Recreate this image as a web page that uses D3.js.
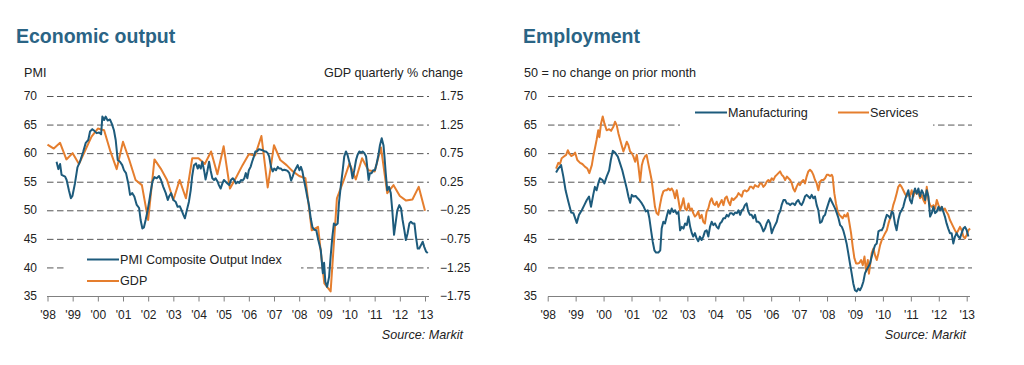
<!DOCTYPE html>
<html><head><meta charset="utf-8">
<script src="https://cdn.jsdelivr.net/npm/d3@7"></script>
<style>
html,body{margin:0;padding:0;background:#fff;}
svg{display:block;font-family:"Liberation Sans",Arial,sans-serif;}
</style></head>
<body><svg id="c" width="1024" height="365"></svg>
<script>
// ---------- DATA ----------
const yearTicks = [1998,1999,2000,2001,2002,2003,2004,2005,2006,2007,2008,2009,2010,2011,2012,2013];
const yearLabels = ["'98","'99","'00","'01","'02","'03","'04","'05","'06","'07","'08","'09","'10","'11","'12","'13"];
const pmiTicks = [35,40,45,50,55,60,65,70];
const gdpTicks = [-1.75,-1.25,-0.75,-0.25,0.25,0.75,1.25,1.75];

// PMI Composite Output Index [decimal year, value]
const pmiComposite = [
[1998.36,58.5],[1998.43,57.2],[1998.50,58.1],[1998.56,56.2],[1998.70,55.9],[1998.76,55.3],[1998.85,53.5],[1998.93,52.1],[1998.99,52.5],
[1999.09,54.7],[1999.19,57.5],[1999.29,58.5],[1999.42,60.3],[1999.52,61.8],[1999.62,62.3],[1999.69,63.8],[1999.78,64.2],[1999.86,63.9],[1999.95,63.5],
[2000.05,63.6],[2000.13,63.3],[2000.18,66.4],[2000.25,65.8],[2000.31,66.4],[2000.39,65.7],[2000.48,65.9],[2000.55,65.2],[2000.64,64.0],[2000.71,62.3],[2000.79,58.8],[2000.88,58.5],[2000.97,57.9],
[2001.04,57.0],[2001.12,56.5],[2001.21,54.7],[2001.28,52.7],[2001.37,53.0],[2001.45,52.4],[2001.54,51.0],[2001.64,50.4],[2001.70,48.3],[2001.77,46.8],[2001.83,47.0],[2001.90,48.3],[2001.98,50.0],
[2002.05,51.8],[2002.11,53.5],[2002.17,55.0],[2002.25,55.8],[2002.34,55.6],[2002.43,56.0],[2002.51,55.3],[2002.60,54.1],[2002.70,53.0],[2002.78,51.8],[2002.83,52.4],[2002.91,53.0],
[2003.00,51.8],[2003.09,51.5],[2003.17,50.6],[2003.26,50.7],[2003.33,50.0],[2003.40,49.2],[2003.46,48.6],[2003.53,49.9],[2003.62,51.5],[2003.69,53.5],[2003.75,56.0],[2003.82,57.9],[2003.90,58.2],[2003.97,57.3],
[2004.02,57.9],[2004.09,57.3],[2004.15,58.5],[2004.23,56.8],[2004.28,55.4],[2004.35,56.8],[2004.42,58.5],[2004.48,57.0],[2004.55,55.6],[2004.62,55.3],[2004.68,55.6],[2004.76,55.0],[2004.81,54.4],[2004.88,53.8],[2004.95,54.7],
[2005.01,55.3],[2005.08,55.0],[2005.15,54.7],[2005.22,54.4],[2005.29,55.3],[2005.36,55.6],[2005.42,55.3],[2005.49,54.7],[2005.56,55.0],[2005.62,54.8],[2005.69,55.3],[2005.75,55.2],[2005.82,55.6],[2005.88,56.5],[2005.94,55.6],
[2006.00,57.0],[2006.07,57.6],[2006.13,58.5],[2006.20,59.4],[2006.26,60.3],[2006.33,60.3],[2006.40,60.7],[2006.48,60.6],[2006.55,60.5],[2006.62,60.3],[2006.68,60.3],[2006.75,60.0],[2006.81,59.4],[2006.88,57.6],[2006.95,56.8],
[2007.01,57.3],[2007.08,57.0],[2007.15,57.6],[2007.21,57.3],[2007.28,57.3],[2007.34,57.0],[2007.41,57.1],[2007.48,57.0],[2007.54,56.9],[2007.61,56.5],[2007.68,55.2],[2007.74,55.9],[2007.81,56.8],[2007.87,57.3],[2007.94,57.9],
[2008.01,57.0],[2008.07,57.6],[2008.13,56.8],[2008.19,55.3],[2008.26,53.8],[2008.32,52.4],[2008.39,50.9],[2008.46,48.6],[2008.53,47.0],[2008.60,46.6],[2008.68,46.5],[2008.76,44.8],[2008.86,43.0],[2008.94,39.0],
[2008.99,40.8],[2009.04,37.5],[2009.11,36.6],[2009.19,38.4],[2009.25,41.9],[2009.32,45.4],[2009.38,47.7],[2009.45,47.4],[2009.53,47.7],[2009.58,51.2],[2009.65,54.1],[2009.73,57.0],[2009.79,59.4],[2009.86,60.3],[2009.92,59.7],[2009.99,58.5],
[2010.06,57.3],[2010.12,55.6],[2010.19,57.0],[2010.26,58.8],[2010.32,59.7],[2010.39,60.3],[2010.46,60.1],[2010.52,60.3],[2010.59,60.0],[2010.66,59.4],[2010.72,57.0],[2010.76,55.3],[2010.81,56.5],[2010.88,56.5],[2010.94,57.0],
[2011.01,57.0],[2011.08,58.2],[2011.15,59.7],[2011.21,61.4],[2011.28,62.6],[2011.35,61.4],[2011.39,59.4],[2011.44,56.5],[2011.50,53.5],[2011.57,54.1],[2011.64,53.0],[2011.70,50.0],[2011.77,45.7],[2011.83,47.7],[2011.90,50.0],[2011.98,50.9],
[2012.05,50.3],[2012.11,48.3],[2012.18,46.5],[2012.24,44.8],[2012.31,46.0],[2012.38,47.7],[2012.44,48.0],[2012.51,47.7],[2012.58,47.7],[2012.64,45.4],[2012.71,43.3],[2012.77,43.3],[2012.84,43.9],[2012.91,44.5],[2012.97,43.6],
[2013.04,42.8],[2013.11,42.5]
];

// GDP quarterly % change, 1998 Q1 onwards
const gdpStartYear = 1998;
const gdpQuarterly = [
0.90,0.83,0.93,0.64, 0.75,0.56,0.80,1.04, 1.18,1.15,0.78,0.47, 0.95,0.63,0.28,0.19,
-0.42,0.64,0.48,0.28, -0.07,0.28,-0.04,0.66, 0.66,0.56,0.78,0.38, 0.87,0.13,0.33,0.54,
0.73,0.71,1.05,0.15, 0.89,0.63,0.54,0.43, 0.35,0.31,-0.60,-0.54, -1.53,-1.67,-0.04,0.25,
0.57,0.29,0.66,0.45, 0.43,0.85,0.05,0.19, 0.00,-0.08,-0.06,0.16, -0.26
];

// Employment: Manufacturing [decimal year, value]
const manufacturing = [
[1998.30,56.6],[1998.38,57.3],[1998.48,57.9],[1998.56,55.9],[1998.64,53.5],[1998.74,51.5],[1998.84,49.6],[1998.92,49.5],
[1999.04,47.8],[1999.12,49.2],[1999.22,50.0],[1999.31,50.9],[1999.40,51.8],[1999.48,52.4],[1999.55,50.6],[1999.63,52.7],[1999.69,54.1],[1999.75,53.5],[1999.81,54.7],[1999.87,55.6],[1999.96,55.3],
[2000.03,54.7],[2000.11,55.9],[2000.20,57.0],[2000.26,58.8],[2000.33,60.4],[2000.41,60.1],[2000.51,59.4],[2000.59,58.2],[2000.67,57.0],[2000.74,55.6],[2000.83,53.8],[2000.89,52.4],[2000.95,51.3],
[2001.01,52.7],[2001.07,52.4],[2001.15,52.5],[2001.22,52.1],[2001.28,51.8],[2001.37,51.2],[2001.44,50.6],[2001.51,49.8],[2001.58,50.0],[2001.64,48.6],[2001.70,46.5],[2001.76,44.5],[2001.82,43.0],[2001.88,42.6],[2001.96,42.6],
[2002.03,43.0],[2002.08,46.8],[2002.14,48.0],[2002.20,47.7],[2002.26,48.9],[2002.32,50.0],[2002.38,49.4],[2002.44,50.3],[2002.50,49.7],[2002.56,50.0],[2002.62,49.4],[2002.68,49.7],[2002.74,46.5],[2002.80,47.1],[2002.86,46.8],[2002.92,47.7],[2002.98,47.4],
[2003.04,48.9],[2003.10,47.1],[2003.16,46.0],[2003.21,45.4],[2003.27,46.0],[2003.33,45.1],[2003.39,44.6],[2003.45,45.4],[2003.51,44.8],[2003.57,45.4],[2003.63,46.3],[2003.69,46.5],[2003.75,45.4],[2003.81,47.1],[2003.87,48.0],[2003.93,47.4],[2003.99,47.7],
[2004.05,47.1],[2004.11,46.8],[2004.17,47.7],[2004.23,48.0],[2004.29,48.6],[2004.35,48.6],[2004.41,49.2],[2004.47,48.9],[2004.53,49.5],[2004.59,49.5],[2004.65,49.2],[2004.71,49.6],[2004.77,49.5],[2004.83,50.0],[2004.89,49.2],[2004.95,50.0],
[2005.00,50.2],[2005.06,50.9],[2005.12,51.2],[2005.18,49.8],[2005.24,49.2],[2005.30,49.2],[2005.36,48.6],[2005.42,49.2],[2005.48,48.0],[2005.54,48.0],[2005.60,47.7],[2005.66,47.1],[2005.72,46.3],[2005.78,46.8],[2005.84,47.7],[2005.90,48.3],[2005.96,47.7],
[2006.02,46.0],[2006.08,46.8],[2006.14,47.4],[2006.20,48.0],[2006.26,49.2],[2006.32,49.8],[2006.38,51.0],[2006.44,51.8],[2006.50,51.8],[2006.56,51.2],[2006.62,51.2],[2006.68,50.9],[2006.74,51.2],[2006.79,51.2],[2006.85,50.9],[2006.91,51.5],[2006.97,51.8],
[2007.03,51.2],[2007.09,50.9],[2007.15,51.5],[2007.21,52.4],[2007.27,52.7],[2007.33,52.4],[2007.39,52.1],[2007.45,52.7],[2007.51,52.1],[2007.57,52.4],[2007.63,50.9],[2007.69,50.0],[2007.75,47.8],[2007.81,48.0],[2007.87,48.9],[2007.93,49.2],[2007.99,50.3],
[2008.05,51.2],[2008.11,52.1],[2008.17,51.5],[2008.23,50.9],[2008.29,50.3],[2008.35,49.5],[2008.41,48.6],[2008.47,47.4],[2008.53,47.1],[2008.58,46.5],[2008.64,45.4],[2008.70,44.2],[2008.76,42.5],[2008.82,40.7],[2008.88,39.0],[2008.94,37.2],
[2009.00,36.0],[2009.06,35.8],[2009.12,36.3],[2009.18,36.0],[2009.24,36.6],[2009.30,37.5],[2009.36,39.0],[2009.42,39.6],[2009.48,40.1],[2009.54,40.7],[2009.60,41.9],[2009.66,43.0],[2009.72,43.9],[2009.78,44.2],[2009.84,46.3],[2009.90,46.5],[2009.96,46.5],
[2010.02,47.1],[2010.08,48.3],[2010.14,49.2],[2010.20,49.0],[2010.26,48.6],[2010.32,49.8],[2010.37,49.5],[2010.43,47.7],[2010.49,46.5],[2010.55,48.3],[2010.61,49.5],[2010.67,50.0],[2010.73,50.6],[2010.79,51.8],[2010.85,52.7],[2010.91,53.5],[2010.97,51.8],
[2011.03,51.2],[2011.09,52.9],[2011.15,53.8],[2011.21,52.9],[2011.27,53.8],[2011.33,52.4],[2011.39,53.5],[2011.45,52.9],[2011.51,51.8],[2011.57,53.5],[2011.63,52.4],[2011.69,48.9],[2011.75,49.5],[2011.81,50.6],[2011.87,49.5],[2011.93,49.8],[2011.99,50.6],
[2012.05,50.0],[2012.11,50.6],[2012.16,49.8],[2012.22,48.9],[2012.28,47.7],[2012.34,46.8],[2012.40,46.0],[2012.46,46.0],[2012.52,44.2],[2012.58,45.4],[2012.64,46.0],[2012.70,45.4],[2012.76,45.1],[2012.82,46.0],[2012.88,46.8],[2012.94,47.1],
[2013.00,46.5],[2013.06,45.4]
];

// Employment: Services [decimal year, value]
const services = [
[1998.30,57.3],[1998.38,58.3],[1998.44,58.1],[1998.50,59.1],[1998.58,59.4],[1998.66,59.7],[1998.72,60.5],[1998.78,59.9],[1998.84,59.5],[1998.92,59.7],[1998.98,60.1],
[1999.06,58.8],[1999.16,58.3],[1999.24,58.1],[1999.34,57.6],[1999.42,57.3],[1999.49,56.5],[1999.58,57.9],[1999.63,59.4],[1999.69,60.8],[1999.75,62.3],[1999.81,64.0],[1999.85,62.8],[1999.91,65.2],[1999.97,66.4],
[2000.03,65.2],[2000.11,64.0],[2000.20,64.2],[2000.27,63.9],[2000.35,64.6],[2000.41,65.5],[2000.47,64.9],[2000.53,63.5],[2000.63,61.7],[2000.71,60.3],[2000.77,61.1],[2000.83,62.0],[2000.89,61.4],[2000.95,60.3],
[2001.01,60.0],[2001.07,59.4],[2001.13,58.5],[2001.19,59.7],[2001.25,57.6],[2001.31,55.0],[2001.37,57.9],[2001.42,58.8],[2001.48,59.4],[2001.54,59.7],[2001.60,58.2],[2001.66,56.8],[2001.72,55.3],[2001.78,53.0],[2001.84,50.6],[2001.90,49.5],[2001.96,49.2],
[2002.02,50.9],[2002.08,52.4],[2002.14,53.3],[2002.20,53.5],[2002.26,53.5],[2002.32,53.8],[2002.38,53.5],[2002.44,53.8],[2002.50,53.3],[2002.56,52.1],[2002.62,53.5],[2002.68,51.8],[2002.74,50.0],[2002.80,50.9],[2002.86,52.1],[2002.92,50.3],[2002.98,50.0],
[2003.04,51.2],[2003.10,50.0],[2003.16,50.3],[2003.21,49.5],[2003.27,48.9],[2003.33,49.2],[2003.39,49.8],[2003.45,48.6],[2003.51,49.2],[2003.57,48.0],[2003.63,47.7],[2003.69,49.8],[2003.75,50.3],[2003.81,51.5],[2003.87,52.1],[2003.93,51.2],[2003.99,50.9],
[2004.05,51.5],[2004.11,50.6],[2004.17,51.2],[2004.23,51.8],[2004.29,50.9],[2004.35,52.1],[2004.41,52.4],[2004.47,51.5],[2004.53,50.9],[2004.59,52.1],[2004.65,51.8],[2004.71,52.1],[2004.77,52.4],[2004.83,53.0],[2004.89,52.7],[2004.95,52.4],
[2005.00,53.3],[2005.06,53.5],[2005.12,53.3],[2005.18,53.5],[2005.24,54.1],[2005.30,54.1],[2005.36,53.8],[2005.42,54.4],[2005.48,54.2],[2005.54,54.1],[2005.60,54.7],[2005.66,54.7],[2005.72,54.1],[2005.78,54.4],[2005.84,55.0],[2005.90,55.3],[2005.96,55.0],
[2006.02,55.6],[2006.08,55.3],[2006.14,55.9],[2006.20,56.2],[2006.26,56.5],[2006.32,56.8],[2006.38,56.2],[2006.44,55.9],[2006.50,55.3],[2006.56,55.9],[2006.62,55.6],[2006.68,55.3],[2006.74,54.7],[2006.79,53.8],[2006.85,53.3],[2006.91,54.1],[2006.97,54.7],
[2007.03,54.4],[2007.09,55.0],[2007.15,55.3],[2007.21,54.7],[2007.27,55.9],[2007.33,56.8],[2007.39,57.1],[2007.45,56.8],[2007.51,56.2],[2007.57,55.3],[2007.63,54.7],[2007.69,53.5],[2007.75,55.0],[2007.81,55.3],[2007.87,55.3],[2007.93,55.6],[2007.99,56.2],
[2008.05,56.2],[2008.11,56.0],[2008.17,56.2],[2008.20,55.9],[2008.26,53.0],[2008.32,51.2],[2008.38,49.8],[2008.44,49.2],[2008.50,48.9],[2008.56,48.6],[2008.62,49.2],[2008.68,48.9],[2008.74,49.5],[2008.80,47.8],[2008.86,46.0],[2008.92,43.6],[2008.98,41.6],
[2009.04,40.7],[2009.10,40.7],[2009.16,40.8],[2009.22,41.3],[2009.28,40.4],[2009.34,41.9],[2009.40,39.3],[2009.46,41.3],[2009.50,38.9],[2009.55,40.7],[2009.60,42.5],[2009.66,43.3],[2009.72,42.1],[2009.78,41.3],[2009.84,42.5],[2009.90,43.9],[2009.96,44.8],
[2010.02,45.4],[2010.08,46.0],[2010.14,46.5],[2010.20,47.7],[2010.26,48.6],[2010.32,49.8],[2010.37,50.9],[2010.43,51.8],[2010.49,52.9],[2010.55,54.1],[2010.61,54.5],[2010.67,54.1],[2010.73,53.5],[2010.79,52.9],[2010.85,52.4],[2010.91,52.9],[2010.97,52.4],
[2011.03,53.5],[2011.09,52.4],[2011.15,53.5],[2011.21,52.9],[2011.27,53.2],[2011.33,52.1],[2011.39,52.7],[2011.45,51.8],[2011.51,51.2],[2011.57,54.1],[2011.63,51.8],[2011.69,50.9],[2011.75,50.6],[2011.81,50.9],[2011.87,50.3],[2011.93,51.8],[2011.99,50.9],
[2012.05,50.3],[2012.11,50.6],[2012.16,50.0],[2012.22,50.3],[2012.28,49.7],[2012.34,49.2],[2012.40,48.3],[2012.46,47.7],[2012.52,47.1],[2012.58,46.5],[2012.64,46.0],[2012.70,46.5],[2012.76,47.1],[2012.82,46.5],[2012.88,45.4],[2012.94,45.1],
[2013.00,45.7],[2013.06,46.5],[2013.12,46.8]
];

// ---------- DRAW ----------
const svg = d3.select("#c");
const BLUE = "#1d5b7c", ORANGE = "#e57e2e", TITLE = "#2a6485", TXT = "#222";
const FS = 12.6;
const gdpPoints = gdpQuarterly.map((v,i)=>[gdpStartYear + i*0.25, v]);

function panel(o){
  const g = svg.append("g");
  const x = d3.scaleLinear().domain([1998,2013]).range(o.xr);
  const y = d3.scaleLinear().domain([35,70]).range([296,96]);
  g.append("text").attr("x",o.titleX).attr("y",43).attr("font-size",19.5).attr("font-weight","bold")
    .attr("fill",TITLE).text(o.title);
  g.append("text").attr("x",o.subX).attr("y",76.5).attr("font-size",FS).attr("fill",TXT).text(o.sub);
  g.append("g").selectAll("line").data(pmiTicks.filter(t=>t>35)).join("line")
    .attr("x1",o.gridX[0]).attr("x2",o.gridX[1]).attr("y1",d=>y(d)+0.5).attr("y2",d=>y(d)+0.5)
    .attr("stroke","#555").attr("stroke-width",1).attr("stroke-dasharray","6.5,3.5");
  g.append("g").selectAll("text").data(pmiTicks).join("text")
    .attr("x",o.yLabX).attr("y",d=>y(d)).attr("dy","0.35em").attr("text-anchor","end")
    .attr("font-size",12).attr("fill",TXT).text(d=>d);
  const ax = d3.axisBottom(x).tickValues(yearTicks).tickFormat((d,i)=>yearLabels[i]).tickSize(5).tickPadding(8.5).tickSizeOuter(0);
  const axg = g.append("g").attr("transform","translate(0,296.5)").call(ax);
  axg.select(".domain").remove();
  axg.append("line").attr("x1",o.gridX[0]).attr("x2",o.axisEnd).attr("y1",0).attr("y2",0).attr("stroke","#808080");
  axg.selectAll(".tick line").attr("stroke","#808080");
  axg.selectAll(".tick text").attr("font-size",12).attr("fill",TXT).attr("font-family","Liberation Sans, Arial, sans-serif");
  g.append("rect").attr("x",o.legBox[0]).attr("y",o.legBox[1]).attr("width",o.legBox[2]).attr("height",o.legBox[3]).attr("fill","#fff");
  g.append("text").attr("x",o.srcX).attr("y",339).attr("text-anchor","end").attr("font-size",FS)
    .attr("font-style","italic").attr("fill",TXT).text("Source: Markit");
  return {g,x,y};
}

// Left panel
const L = panel({title:"Economic output", titleX:16, sub:"PMI", subX:24, xr:[47.5,425], gridX:[47,429],
  axisEnd:429, yLabX:37, legBox:[64,246,237,46], srcX:463});
L.g.append("text").attr("x",463).attr("y",76.5).attr("text-anchor","end").attr("font-size",FS).attr("fill",TXT).text("GDP quarterly % change");
const yG = d3.scaleLinear().domain([-1.75,1.75]).range([296,96]);
L.g.append("g").selectAll("text").data(gdpTicks).join("text")
  .attr("x",440).attr("y",d=>yG(d)).attr("dy","0.35em").attr("font-size",12).attr("fill",TXT)
  .text(d=>d3.format(".2f")(d));
const lineL = d3.line().x(d=>L.x(d[0])).y(d=>L.y(d[1]));
const lineG = d3.line().x(d=>L.x(d[0])).y(d=>yG(d[1]));
L.g.append("path").datum(gdpPoints).attr("d",lineG).attr("fill","none").attr("stroke",ORANGE).attr("stroke-width",2).attr("stroke-linejoin","round");
L.g.append("path").datum(pmiComposite).attr("d",lineL).attr("fill","none").attr("stroke",BLUE).attr("stroke-width",2).attr("stroke-linejoin","round");
[[ "PMI Composite Output Index", BLUE, 259.5],["GDP", ORANGE, 281]].forEach(([t,c,yy])=>{
  L.g.append("line").attr("x1",87).attr("x2",119).attr("y1",yy).attr("y2",yy).attr("stroke",c).attr("stroke-width",2);
  L.g.append("text").attr("x",120).attr("y",yy).attr("dy","0.35em").attr("font-size",FS).attr("fill",TXT).text(t);
});

// Right panel
const R = panel({title:"Employment", titleX:523, sub:"50 = no change on prior month", subX:524, xr:[547.7,966.7], gridX:[548,972],
  axisEnd:970, yLabX:537, legBox:[680,101,253,30], srcX:966});
const lineR = d3.line().x(d=>R.x(d[0])).y(d=>R.y(d[1]));
R.g.append("path").datum(services).attr("d",lineR).attr("fill","none").attr("stroke",ORANGE).attr("stroke-width",2).attr("stroke-linejoin","round");
R.g.append("path").datum(manufacturing).attr("d",lineR).attr("fill","none").attr("stroke",BLUE).attr("stroke-width",2).attr("stroke-linejoin","round");
[["Manufacturing", BLUE, 695, 727],["Services", ORANGE, 838, 869]].forEach(([t,c,x1,x2])=>{
  R.g.append("line").attr("x1",x1).attr("x2",x2).attr("y1",112.5).attr("y2",112.5).attr("stroke",c).attr("stroke-width",2);
  R.g.append("text").attr("x",x2+1).attr("y",112.5).attr("dy","0.35em").attr("font-size",FS).attr("fill",TXT).text(t);
});
</script></body></html>
